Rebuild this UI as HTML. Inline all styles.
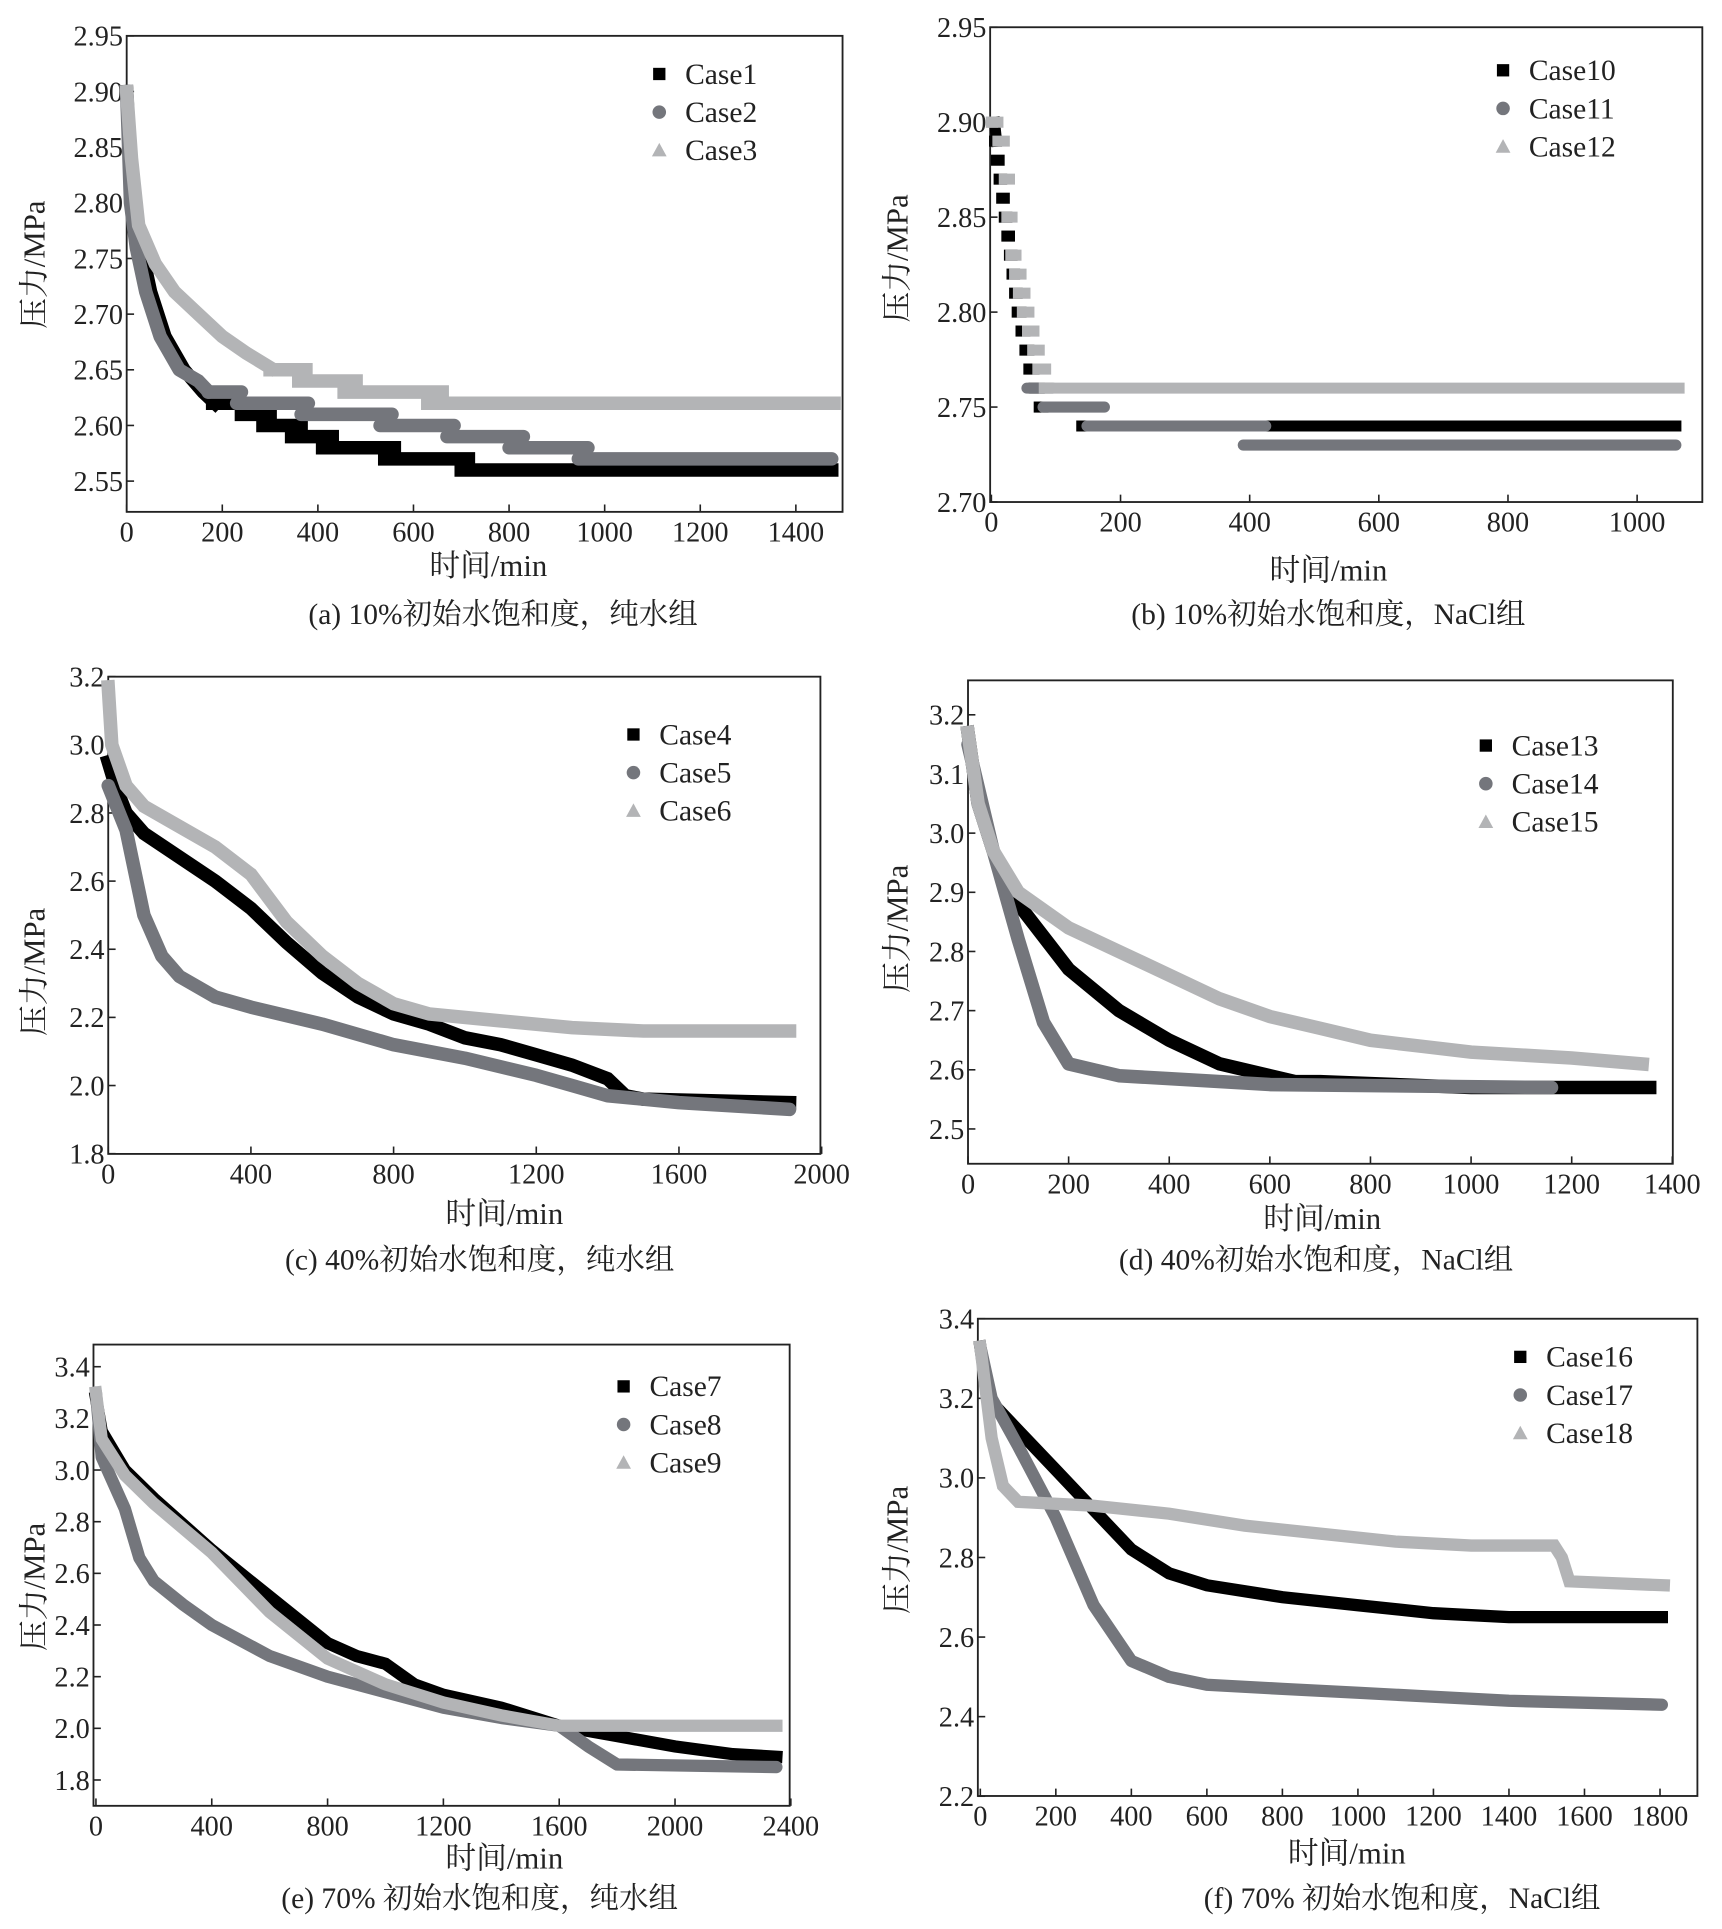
<!DOCTYPE html>
<html><head><meta charset="utf-8"><style>
html,body{margin:0;padding:0;background:#fff;}
svg{display:block;}
text{font-family:"Liberation Serif","Noto Serif CJK SC","Noto Sans CJK SC",serif;fill:#222;}
</style></head><body>
<svg id="s" width="1722" height="1929" viewBox="0 0 1400 1568" xmlns="http://www.w3.org/2000/svg"></svg>
<script>
const S=document.getElementById('s');let h='';
const C=['#000','#74767c','#b3b4b6'];
function panel(p){
 const X=t=>p.x0+t*p.sx, Y=v=>p.y0+(p.ymaxT-v)*p.sy;
 h+=`<rect x="${p.bx}" y="${p.by}" width="${p.bw}" height="${p.bh}" fill="none" stroke="#222" stroke-width="1.5"/>`;
 p.yt.forEach(v=>{const y=Y(v);h+=`<line x1="${p.bx}" x2="${p.bx+6}" y1="${y}" y2="${y}" stroke="#222" stroke-width="1.3"/><text x="${p.bx-3}" y="${y+8}" font-size="23" text-anchor="end">${v.toFixed(p.yd)}</text>`;});
 p.xt.forEach(t=>{const x=X(t);h+=`<line x1="${x}" x2="${x}" y1="${p.by+p.bh}" y2="${p.by+p.bh-6}" stroke="#222" stroke-width="1.3"/><text x="${x}" y="${p.by+p.bh+24}" font-size="23" text-anchor="middle">${t}</text>`;});
 p.series.forEach((d,i)=>{
  const list=Array.isArray(d[0][0])?d:[d];
  list.forEach(seg=>{
  const pts=seg.map(q=>X(q[0]).toFixed(1)+','+Y(q[1]).toFixed(1)).join(' ');
  h+=`<polyline points="${pts}" fill="none" stroke="${C[i]}" stroke-width="${p.w||11}" stroke-linejoin="${i==1?'round':'miter'}" stroke-linecap="${i==1?'round':'square'}"/>`;});
 });
 p.leg.names.forEach((n,i)=>{const y=p.leg.y+i*31,x=p.leg.x;
  if(i==0)h+=`<rect x="${x-5}" y="${y-5}" width="10" height="10" fill="#000"/>`;
  else if(i==1)h+=`<circle cx="${x}" cy="${y}" r="5.5" fill="${C[1]}"/>`;
  else h+=`<polygon points="${x-6},${y+5} ${x+6},${y+5} ${x},${y-6}" fill="${C[2]}"/>`;
  h+=`<text x="${x+21}" y="${y+8}" font-size="24">${n}</text>`;});
 h+=`<text x="${p.xl[0]}" y="${p.xl[1]}" font-size="25" text-anchor="middle">时间/min</text>`;
 h+=`<text x="${p.cap[0]}" y="${p.cap[1]}" font-size="24" text-anchor="middle">${p.cap[2]}</text>`;
 h+=`<text transform="translate(${p.yl[0]},${p.yl[1]}) rotate(-90)" font-size="25" text-anchor="middle">压力/MPa</text>`;
}
function st(start,steps){let r=[start];steps.forEach(s=>{r.push([[s[0],s[2]],[s[1],s[2]]]);});return r;}
// (a)
panel({bx:103,by:29,bw:582,bh:387,x0:103,sx:0.3886,y0:29,ymaxT:2.95,sy:905,yd:2,
 yt:[2.95,2.90,2.85,2.80,2.75,2.70,2.65,2.60,2.55],xt:[0,200,400,600,800,1000,1200,1400],
 series:[
  st([[0,2.90],[10,2.82],[25,2.77],[50,2.72],[80,2.68],[120,2.65],[160,2.63],[185,2.62]],[[180,240,2.62],[240,300,2.61],[285,365,2.60],[345,430,2.59],[410,560,2.58],[540,715,2.57],[700,1475,2.56]]),
  st([[0,2.90],[8,2.80],[20,2.76],[40,2.72],[70,2.68],[110,2.65],[150,2.64],[172,2.63]],[[170,240,2.63],[230,380,2.62],[365,555,2.61],[530,685,2.60],[670,830,2.59],[800,965,2.58],[945,1475,2.57]]),
  st([[0,2.90],[10,2.84],[25,2.78],[60,2.745],[100,2.72],[150,2.70],[200,2.68],[250,2.665],[300,2.652]],[[300,375,2.65],[360,480,2.64],[455,660,2.63],[630,1480,2.62]])],
 leg:{x:536,y:60,names:['Case1','Case2','Case3']},xl:[397,468],cap:[409,507,'(a) 10%初始水饱和度，纯水组'],yl:[36,215]});
// (b)
const stairB=(a,b,c)=>{let r=[];for(let k=0;k<a.length;k++)r.push([a[k],a[k]+b,c[k]]);return r;};
panel({bx:805,by:22,bw:579,bh:386,x0:806,sx:0.525,y0:22,ymaxT:2.95,sy:1544,yd:2,
 yt:[2.95,2.90,2.85,2.80,2.75,2.70],xt:[0,200,400,600,800,1000],
 series:[
  st([[5,2.90],[8,2.89]],[[5,8,2.89],[8,12,2.88],[12,16,2.87],[16,20,2.86],[20,24,2.85],[24,28,2.84],[28,32,2.83],[32,36,2.82],[36,40,2.81],[40,46,2.80],[46,52,2.79],[52,58,2.78],[58,66,2.77],[66,74,2.76],[74,80,2.75],[140,1060,2.74]]),
  st([[55,2.76],[56,2.76]],[[60,95,2.76],[80,175,2.75],[148,425,2.74],[390,1060,2.73]]),
  st([[0,2.90],[2,2.90]],[[0,10,2.90],[10,20,2.89],[20,28,2.87],[24,32,2.85],[30,38,2.83],[36,46,2.82],[42,52,2.81],[48,58,2.80],[56,66,2.79],[64,74,2.78],[72,84,2.77],[82,1065,2.76]])],
 w:9,leg:{x:1222,y:57,names:['Case10','Case11','Case12']},xl:[1080,472],cap:[1080,507,'(b) 10%初始水饱和度，NaCl组'],yl:[738,210]});
// (c)
panel({bx:88,by:550,bw:579,bh:388,x0:88,sx:0.29,y0:550,ymaxT:3.2,sy:277,yd:1,
 yt:[3.2,3.0,2.8,2.6,2.4,2.2,2.0,1.8],xt:[0,400,800,1200,1600,2000],
 series:[
  [[0,2.95],[20,2.88],[50,2.80],[100,2.74],[200,2.67],[300,2.60],[400,2.52],[500,2.42],[600,2.33],[700,2.26],[800,2.21],[900,2.18],[1000,2.14],[1100,2.12],[1200,2.09],[1300,2.06],[1400,2.02],[1450,1.97],[1500,1.96],[1910,1.95]],
  [[0,2.88],[50,2.75],[100,2.50],[150,2.38],[200,2.32],[300,2.26],[400,2.23],[600,2.18],[800,2.12],[1000,2.08],[1200,2.03],[1300,2.00],[1400,1.97],[1600,1.95],[1910,1.93]],
  [[0,3.17],[10,3.00],[50,2.88],[100,2.82],[200,2.76],[300,2.70],[400,2.62],[500,2.48],[600,2.38],[700,2.30],[800,2.24],[900,2.21],[1100,2.19],[1300,2.17],[1500,2.16],[1910,2.16]]],
 leg:{x:515,y:597,names:['Case4','Case5','Case6']},xl:[410,995],cap:[390,1032,'(c) 40%初始水饱和度，纯水组'],yl:[36,790]});
// (d)
panel({bx:787,by:553,bw:573,bh:393,x0:787,sx:0.409,y0:581,ymaxT:3.2,sy:481,yd:1,
 yt:[3.2,3.1,3.0,2.9,2.8,2.7,2.6,2.5],xt:[0,200,400,600,800,1000,1200,1400],
 series:[
  [[0,3.17],[20,3.05],[50,2.97],[100,2.88],[200,2.77],[300,2.70],[400,2.65],[500,2.61],[600,2.59],[650,2.58],[700,2.58],[1000,2.57],[1355,2.57]],
  [[0,3.15],[50,2.97],[100,2.82],[150,2.68],[200,2.61],[250,2.60],[300,2.59],[400,2.585],[600,2.575],[1160,2.57]],
  [[0,3.17],[20,3.05],[50,2.97],[100,2.90],[200,2.84],[300,2.80],[400,2.76],[500,2.72],[600,2.69],[700,2.67],[800,2.65],[900,2.64],[1000,2.63],[1200,2.62],[1340,2.61]]],
 leg:{x:1208,y:606,names:['Case13','Case14','Case15']},xl:[1075,999],cap:[1070,1032,'(d) 40%初始水饱和度，NaCl组'],yl:[738,755]});
// (e)
panel({bx:76,by:1093,bw:566,bh:375,x0:78,sx:0.2354,y0:1111,ymaxT:3.4,sy:210,yd:1,
 yt:[3.4,3.2,3.0,2.8,2.6,2.4,2.2,2.0,1.8],xt:[0,400,800,1200,1600,2000,2400],
 series:[
  [[0,3.28],[20,3.15],[100,3.00],[200,2.89],[400,2.69],[600,2.51],[800,2.33],[900,2.28],[1000,2.25],[1100,2.17],[1200,2.13],[1400,2.08],[1600,2.01],[1800,1.97],[2000,1.93],[2200,1.90],[2350,1.89]],
  [[0,3.30],[20,3.05],[100,2.85],[150,2.66],[200,2.57],[300,2.48],[400,2.40],[600,2.28],[800,2.20],[1000,2.14],[1200,2.08],[1400,2.04],[1600,2.01],[1700,1.93],[1800,1.86],[2350,1.85]],
  [[0,3.30],[20,3.12],[100,2.98],[200,2.87],[400,2.68],[600,2.45],[800,2.27],[1000,2.17],[1200,2.10],[1400,2.05],[1600,2.01],[2350,2.01]]],
 w:10,leg:{x:507,y:1127,names:['Case7','Case8','Case9']},xl:[410,1519],cap:[390,1551,'(e)  70% 初始水饱和度，纯水组'],yl:[36,1290]});
// (f)
panel({bx:795,by:1072,bw:585,bh:388,x0:797,sx:0.307,y0:1072,ymaxT:3.4,sy:323.5,yd:1,
 yt:[3.4,3.2,3.0,2.8,2.6,2.4,2.2],xt:[0,200,400,600,800,1000,1200,1400,1600,1800],
 series:[
  [[0,3.33],[20,3.20],[100,3.12],[200,3.02],[300,2.92],[400,2.82],[500,2.76],[600,2.73],[800,2.70],[1000,2.68],[1200,2.66],[1400,2.65],[1805,2.65]],
  [[0,3.33],[30,3.20],[100,3.08],[200,2.90],[300,2.68],[400,2.54],[500,2.50],[600,2.48],[800,2.47],[1000,2.46],[1200,2.45],[1400,2.44],[1805,2.43]],
  [[0,3.33],[30,3.10],[60,2.98],[100,2.94],[300,2.93],[500,2.91],[700,2.88],[900,2.86],[1100,2.84],[1300,2.83],[1520,2.83],[1540,2.80],[1560,2.74],[1810,2.73]]],
 w:10,leg:{x:1236,y:1103,names:['Case16','Case17','Case18']},xl:[1095,1515],cap:[1140,1551,'(f)  70% 初始水饱和度，NaCl组'],yl:[738,1260]});
S.innerHTML=h;
</script>
</body></html>
